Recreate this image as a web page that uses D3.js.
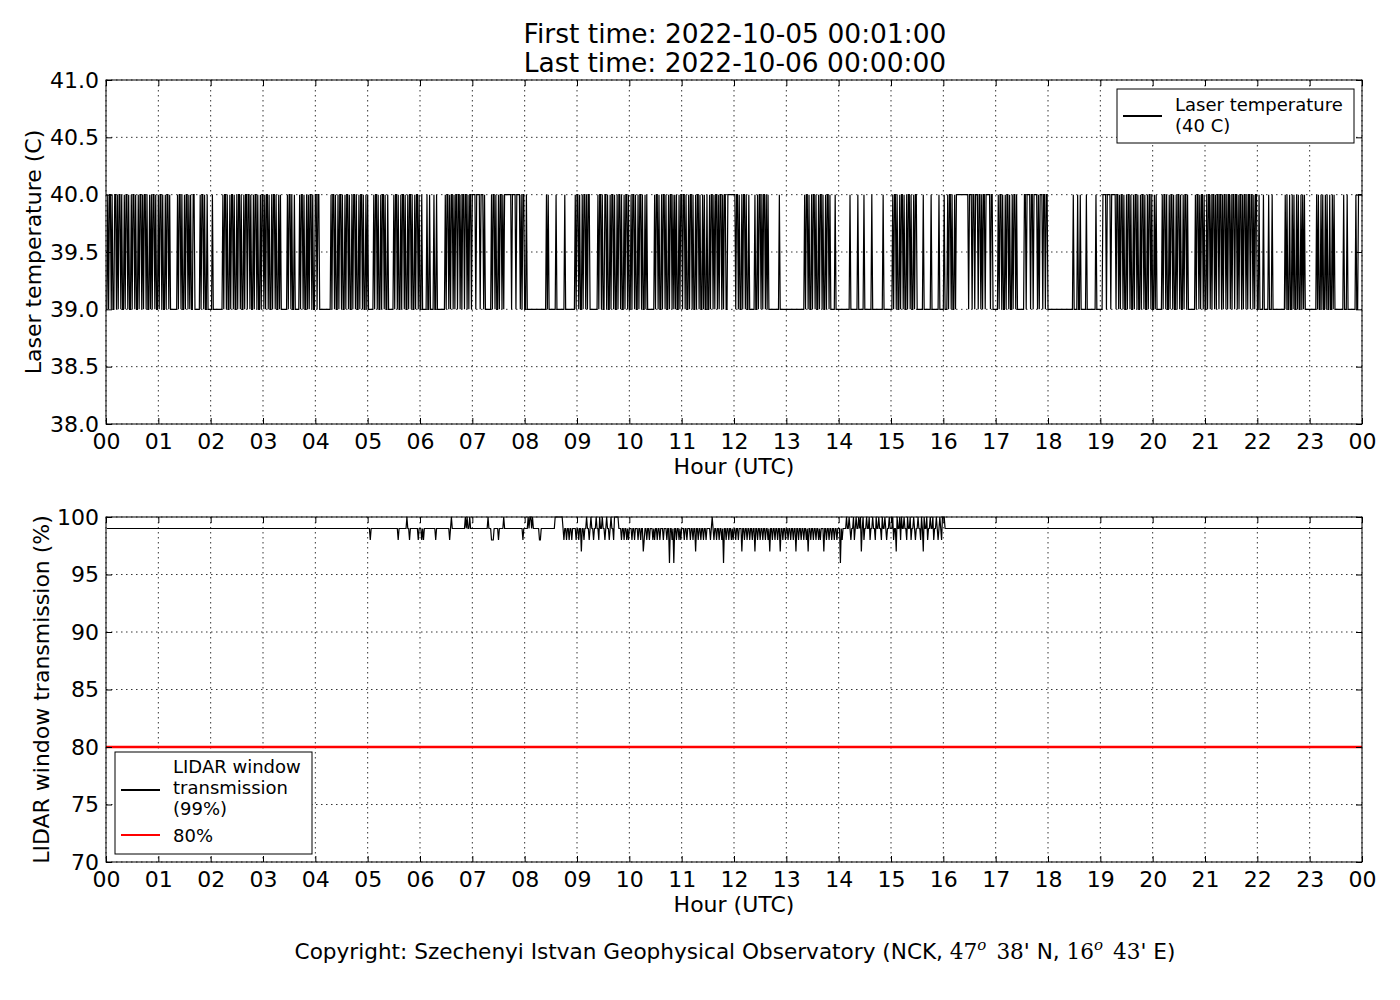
<!DOCTYPE html>
<html>
<head>
<meta charset="utf-8">
<script src="https://cdn.jsdelivr.net/npm/d3@7"></script>
<style>
  body { margin: 0; background: #fff; }
  text { font-family: "DejaVu Sans", sans-serif; fill: #000; }
</style>
</head>
<body>
<script>
// laser temperature, one digit per minute starting 00:01 (value = 39 + digit), one string per hour
const laserHours = [
  "0101101001 1010110100 1011010010 1101001011 0101101001 0101101001",
  "0110100101 1010000000 0101101001 0110101001 1000000101 1010010000",
  "0100000000 0001011010 0101101001 0110100101 1011010010 1101001011",
  "0101101001 0110100101 0000000101 1010010000 0101101001 0101101001",
  "1011000000 0000000101 1010010110 1001011010 0101101001 0110100101",
  "0000001011 0100101101 0010000001 0110100101 1010010110 1001011010",
  "0100000100 1000010010 0000000010 1101011010 1101101011 0110101101",
  "1110111101 1101000000 0101101001 0110101111 1111011110 1111010110",
  "0100000000 0000000000 0000101000 0000010000 0000010000 0000000101",
  "1010010110 1011000000 0001011010 0110100101 1010010110 1001011010",
  "0101101001 0110100101 0000000010 1101001011 0100101101 0101001011",
  "0110100101 1010010110 1001010010 0101101011 0101101011 0011111111",
  "1011010010 1101001000 0001001011 0101101010 0000000000 0100000000",
  "0000000000 0000000000 1011010010 1101001011 0100101101 0000010000",
  "0000000000 0010000000 0100000010 0000000100 0000000000 1000000000",
  "0101101001 0110100101 1010010110 0000001000 0000010000 0000100000",
  "1000101101 0010111111 1111111101 1101101110 1101011011 1110110000",
  "0010110100 1011010010 1101000000 0011011110 1101111010 1110110110",
  "0000000000 0000000000 0000000010 0001001000 0001000000 0000100000",
  "0011110111 1011111011 0101101001 0110100101 1010010110 1001011010",
  "0101000000 1011010010 1101001011 0100101101 0000000010 1101011010",
  "0101101011 0101101101 0110101101 0110110101 1010110101 1011010110",
  "0100001000 0010001000 0000000000 0101001001 0100101001 0101000000",
  "0000000101 0010100101 0010010100 0000000010 0010000000 0010011111"
];

// lidar window transmission, one digit per minute starting 00:01 (value = 100 - digit)
const lidarHours = [
  "1111111111 1111111111 1111111111 1111111111 1111111111 1111111111",
  "1111111111 1111111111 1111111111 1111111111 1111111111 1111111111",
  "1111111111 1111111111 1111111111 1111111111 1111111111 1111111111",
  "1111111111 1111111111 1111111111 1111111111 1111111111 1111111111",
  "1111111111 1111111111 1111111111 1111111111 1111111111 1111111111",
  "1121111111 1111111111 1111111111 1111211111 1111011211 1111111211",
  "1212111111 1111111211 1111111111 1112101111 1111111111 1010110111",
  "1111111111 1111111011 1222111112 1111101111 1111111111 1111111211",
  "1110100101 1111112211 1111111111 1111000000 0001211211 2112111121",
  "1211311211 0112101121 1011201101 1210112101 1200000111 2112112121",
  "1121121112 1121132112 1121112121 1211211121 1121141121 4112112121",
  "1121121112 1121131121 1211211211 1121012112 1121121411 2112112121",
  "1211211131 1211211211 2113112112 1121121121 3112112112 1131121121",
  "1211211211 3112112112 1121311211 2112112121 1131121121 1211211211",
  "1412111101 1012110210 1101031021 1011021101 1201101120 1101211011",
  "1021130110 2011011201 1021101211 0112013011 0211011021 1012101200",
  "0111111111 1111111111 1111111111 1111111111 1111111111 1111111111",
  "1111111111 1111111111 1111111111 1111111111 1111111111 1111111111",
  "1111111111 1111111111 1111111111 1111111111 1111111111 1111111111",
  "1111111111 1111111111 1111111111 1111111111 1111111111 1111111111",
  "1111111111 1111111111 1111111111 1111111111 1111111111 1111111111",
  "1111111111 1111111111 1111111111 1111111111 1111111111 1111111111",
  "1111111111 1111111111 1111111111 1111111111 1111111111 1111111111",
  "1111111111 1111111111 1111111111 1111111111 1111111111 1111111111"
];

const hourLabels = ["00","01","02","03","04","05","06","07","08","09","10","11",
                    "12","13","14","15","16","17","18","19","20","21","22","23","00"];
const laserTicks = [38.0, 38.5, 39.0, 39.5, 40.0, 40.5, 41.0];
const lidarTicks = [70, 75, 80, 85, 90, 95, 100];
const lidarLimit = 80;
const firstTime = "2022-10-05 00:01:00";
const lastTime = "2022-10-06 00:00:00";

const width = 1400;
const height = 1000;
const left = 106;
const right = 1362;

function toSeries(hours, valueOf) {
  let series = [];
  hours.forEach((str, h) => {
    str.replace(/ /g, "").split("").forEach((c, p) => {
      series.push({t: h + (p + 1) / 60, v: valueOf(+c)});
    });
  });
  return series;
}

let laser = toSeries(laserHours, d => 39 + d);
let lidar = toSeries(lidarHours, d => 100 - d);

let svg = d3.select("body")
  .append("svg")
    .attr("width", width)
    .attr("height", height);

function drawPanel(p) {
  let x = d3.scaleLinear().domain([0, 24]).range([left, right]);
  let y = d3.scaleLinear().domain([p.ticks[0], p.ticks[p.ticks.length - 1]]).range([p.bottom, p.top]);
  let hourValues = hourLabels.map((d, i) => i);
  let g = svg.append("g");

  //GRID
  g.append("g").selectAll("line")
    .data(hourValues)
    .enter()
    .append("line")
      .attr("x1", d => x(d)).attr("x2", d => x(d))
      .attr("y1", p.top).attr("y2", p.bottom)
      .attr("stroke", "#000").attr("stroke-width", 0.8)
      .attr("stroke-dasharray", "1.5,3.5");
  g.append("g").selectAll("line")
    .data(p.ticks)
    .enter()
    .append("line")
      .attr("x1", left).attr("x2", right)
      .attr("y1", d => y(d)).attr("y2", d => y(d))
      .attr("stroke", "#000").attr("stroke-width", 0.8)
      .attr("stroke-dasharray", "1.5,3.5");

  //LIMIT LINE
  if (p.limit !== undefined) {
    g.append("line")
      .attr("x1", left).attr("x2", right)
      .attr("y1", y(p.limit)).attr("y2", y(p.limit))
      .attr("stroke", "#ff0000").attr("stroke-width", 2.5);
  }

  //DATA
  let line = d3.line().x(d => x(d.t)).y(d => y(d.v));
  g.append("path")
    .datum(p.series)
      .attr("d", line)
      .attr("fill", "none")
      .attr("stroke", "#000")
      .attr("stroke-width", 1.2);

  //FRAME
  g.append("rect")
    .attr("x", left).attr("y", p.top)
    .attr("width", right - left).attr("height", p.bottom - p.top)
    .attr("fill", "none").attr("stroke", "#000").attr("stroke-width", 1);

  //AXES
  function styleAxis(el) {
    el.select(".domain").remove();
    el.attr("font-size", 22).attr("font-family", "DejaVu Sans");
    el.selectAll(".tick line").attr("stroke", "#000");
  }
  g.append("g")
    .attr("transform", `translate(0,${p.bottom})`)
    .call(d3.axisBottom(x).tickValues(hourValues).tickSize(-6).tickPadding(9)
      .tickFormat((d, i) => hourLabels[i]))
    .call(styleAxis);
  g.append("g")
    .attr("transform", `translate(0,${p.top})`)
    .call(d3.axisTop(x).tickValues(hourValues).tickSize(-6).tickFormat(""))
    .call(styleAxis);
  g.append("g")
    .attr("transform", `translate(${left},0)`)
    .call(d3.axisLeft(y).tickValues(p.ticks).tickSize(-6).tickPadding(7).tickFormat(p.format))
    .call(styleAxis);
  g.append("g")
    .attr("transform", `translate(${right},0)`)
    .call(d3.axisRight(y).tickValues(p.ticks).tickSize(-6).tickFormat(""))
    .call(styleAxis);

  //LABELS
  g.append("text")
    .attr("x", (left + right) / 2).attr("y", p.bottom + 50)
    .attr("text-anchor", "middle").attr("font-size", 22)
    .text("Hour (UTC)");
  g.append("text")
    .attr("transform", `translate(${p.ylabelX},${(p.top + p.bottom) / 2}) rotate(-90)`)
    .attr("text-anchor", "middle").attr("font-size", 22)
    .text(p.ylabel);

  //LEGEND
  let lg = g.append("g").attr("transform", `translate(${p.legend.x},${p.legend.y})`);
  lg.append("rect")
    .attr("width", p.legend.w).attr("height", p.legend.h)
    .attr("fill", "#fff").attr("stroke", "#000").attr("stroke-width", 1);
  p.legend.items.forEach(item => {
    lg.append("line")
      .attr("x1", 6).attr("x2", 45)
      .attr("y1", item.lineY).attr("y2", item.lineY)
      .attr("stroke", item.color).attr("stroke-width", item.width)
      .attr("shape-rendering", "crispEdges");
    item.lines.forEach((t, i) => {
      lg.append("text")
        .attr("x", 58).attr("y", item.textY + i * 21)
        .attr("font-size", 18)
        .text(t);
    });
  });
}

drawPanel({
  top: 80, bottom: 424,
  ticks: laserTicks,
  format: d3.format(".1f"),
  series: laser,
  ylabel: "Laser temperature (C)",
  ylabelX: 41,
  legend: {
    x: 1117, y: 89, w: 237, h: 54,
    items: [{lineY: 27, color: "#000", width: 1.3, textY: 22, lines: ["Laser temperature", "(40 C)"]}]
  }
});

drawPanel({
  top: 517, bottom: 862,
  ticks: lidarTicks,
  format: d3.format("d"),
  series: lidar,
  limit: lidarLimit,
  ylabel: "LIDAR window transmission (%)",
  ylabelX: 49,
  legend: {
    x: 115, y: 752, w: 197, h: 102,
    items: [
      {lineY: 38, color: "#000", width: 1.3, textY: 21, lines: ["LIDAR window", "transmission", "(99%)"]},
      {lineY: 83, color: "#ff0000", width: 2.5, textY: 90, lines: ["80%"]}
    ]
  }
});

//TITLE
svg.append("text")
  .attr("x", 735).attr("y", 43)
  .attr("text-anchor", "middle").attr("font-size", 26.5)
  .text("First time: " + firstTime);
svg.append("text")
  .attr("x", 735).attr("y", 72)
  .attr("text-anchor", "middle").attr("font-size", 26.5)
  .text("Last time: " + lastTime);

//COPYRIGHT
let copy = svg.append("text")
  .attr("x", 735).attr("y", 959)
  .attr("text-anchor", "middle").attr("font-size", 21.6);
copy.append("tspan").text("Copyright: Szechenyi Istvan Geophysical Observatory (NCK, ");
copy.append("tspan").attr("font-family", "DejaVu Serif").text("47");
copy.append("tspan").attr("font-family", "DejaVu Serif").attr("font-style", "italic")
  .attr("font-size", 15).attr("dy", -9).text("o");
copy.append("tspan").attr("font-family", "DejaVu Serif").attr("dy", 9).attr("dx", 10).text("38");
copy.append("tspan").text("' N, ");
copy.append("tspan").attr("font-family", "DejaVu Serif").text("16");
copy.append("tspan").attr("font-family", "DejaVu Serif").attr("font-style", "italic")
  .attr("font-size", 15).attr("dy", -9).text("o");
copy.append("tspan").attr("font-family", "DejaVu Serif").attr("dy", 9).attr("dx", 10).text("43");
copy.append("tspan").text("' E)");
</script>
</body>
</html>
